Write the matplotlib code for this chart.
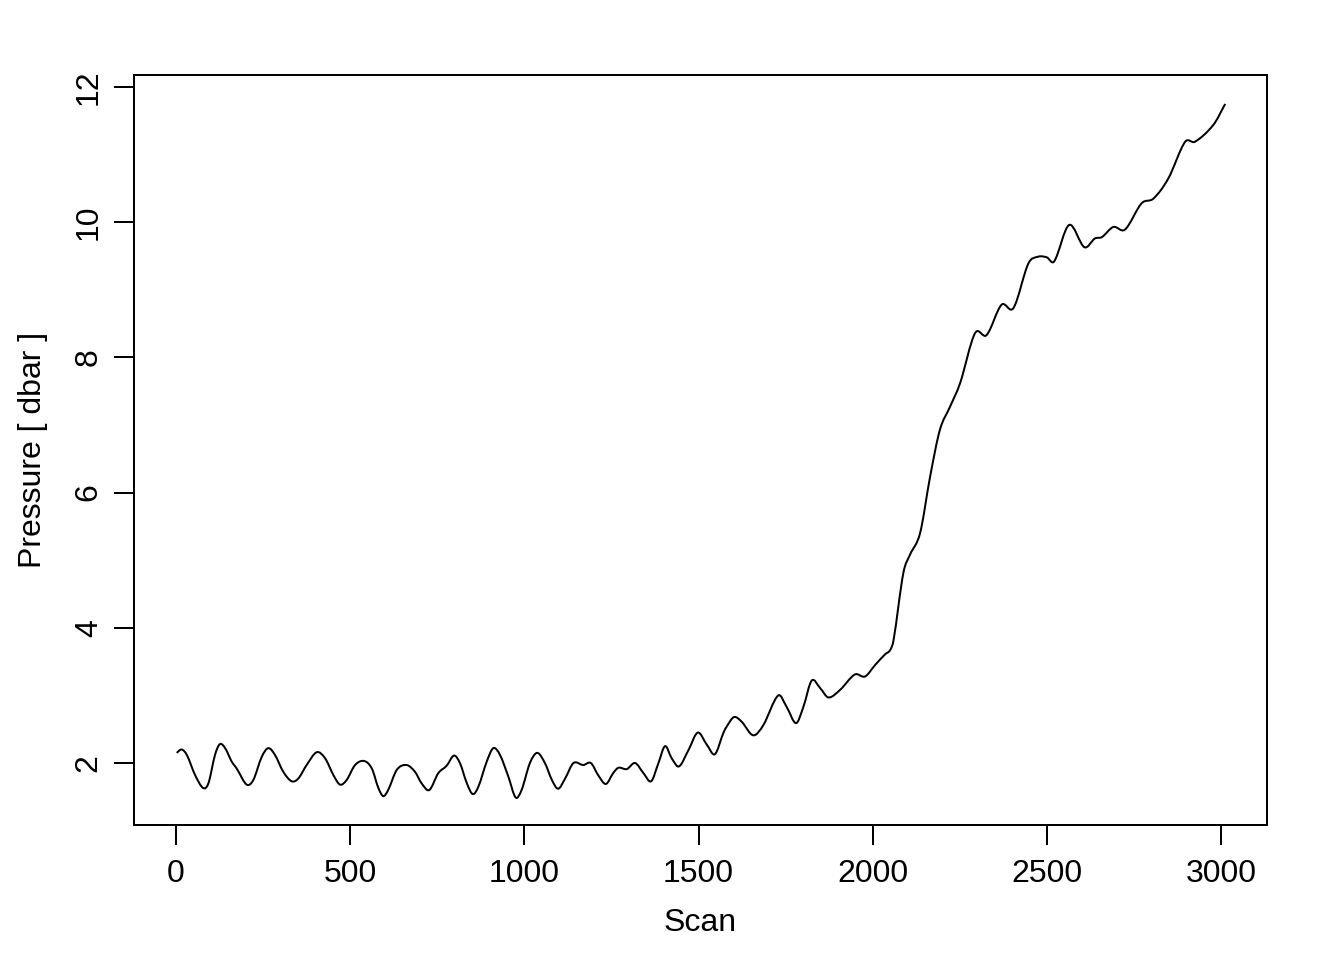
import matplotlib
matplotlib.use("Agg")
import matplotlib.pyplot as plt
from matplotlib.path import Path
from matplotlib.patches import PathPatch

plt.rcParams['font.family'] = ['Liberation Sans', 'DejaVu Sans']

# pressure trace
scan = [2, 16, 31, 55, 78, 93, 112, 126, 141, 160, 174, 203, 222, 246, 265,
        284, 308, 332, 351, 375, 404, 428, 452, 471, 490, 514, 540, 562, 581,
        595, 609, 634, 662, 686, 705, 727, 753, 777, 798, 815, 835, 852, 868,
        892, 911, 930, 954, 975, 992, 1016, 1037, 1059, 1079, 1097, 1117,
        1141, 1169, 1191, 1212, 1234, 1255, 1270, 1294, 1318, 1342, 1364,
        1385, 1404, 1423, 1444, 1471, 1498, 1524, 1547, 1571, 1581, 1602,
        1624, 1657, 1686, 1729, 1753, 1780, 1801, 1825, 1849, 1873, 1906,
        1949, 1978, 2007, 2036, 2050, 2060, 2088, 2107, 2136, 2165, 2193,
        2222, 2251, 2294, 2327, 2370, 2404, 2447, 2475, 2500, 2521, 2564,
        2608, 2638, 2658, 2691, 2724, 2772, 2806, 2849, 2897, 2925, 2978, 3012]
pressure = [2.15, 2.20, 2.12, 1.82, 1.63, 1.70, 2.12, 2.28, 2.22, 2.02, 1.92,
            1.68, 1.75, 2.09, 2.22, 2.12, 1.87, 1.73, 1.77, 1.97, 2.16, 2.07,
            1.82, 1.68, 1.75, 1.97, 2.03, 1.92, 1.63, 1.51, 1.60, 1.90, 1.97,
            1.87, 1.70, 1.60, 1.85, 1.96, 2.11, 2.00, 1.70, 1.54, 1.65, 2.02,
            2.22, 2.12, 1.80, 1.49, 1.60, 2.00, 2.15, 2.00, 1.75, 1.62, 1.77,
            2.00, 1.97, 2.00, 1.82, 1.69, 1.85, 1.93, 1.91, 2.00, 1.85, 1.73,
            2.00, 2.25, 2.07, 1.95, 2.19, 2.45, 2.27, 2.13, 2.44, 2.54, 2.68,
            2.61, 2.41, 2.56, 3.00, 2.83, 2.59, 2.83, 3.22, 3.11, 2.97, 3.08,
            3.31, 3.28, 3.45, 3.61, 3.67, 3.82, 4.81, 5.08, 5.40, 6.24, 6.93,
            7.27, 7.62, 8.36, 8.33, 8.78, 8.73, 9.39, 9.49, 9.48, 9.42, 9.96,
            9.63, 9.76, 9.78, 9.93, 9.89, 10.28, 10.35, 10.65, 11.19, 11.19,
            11.44, 11.75]

x_ticks = [0, 500, 1000, 1500, 2000, 2500, 3000]
y_ticks = [2, 4, 6, 8, 10, 12]


def smooth_path(xs, ys):
    # cubic Hermite segments through the read points, drawn as Bezier curves
    n = len(xs)
    slopes = []
    for i in range(n):
        a = max(i - 1, 0)
        b = min(i + 1, n - 1)
        slopes.append((ys[b] - ys[a]) / (xs[b] - xs[a]))
    verts = [(xs[0], ys[0])]
    codes = [Path.MOVETO]
    for i in range(n - 1):
        d = (xs[i + 1] - xs[i]) / 3
        verts += [(xs[i] + d, ys[i] + slopes[i] * d),
                  (xs[i + 1] - d, ys[i + 1] - slopes[i + 1] * d),
                  (xs[i + 1], ys[i + 1])]
        codes += [Path.CURVE4] * 3
    return Path(verts, codes)


fig = plt.figure(figsize=(7, 5), dpi=192)
ax = fig.add_axes([134 / 1344, 1 - 825 / 960, (1267 - 134) / 1344, (825 - 75) / 960])
ax.add_patch(PathPatch(smooth_path(scan, pressure), facecolor='none',
                       edgecolor='black', lw=0.75, joinstyle='round'))
ax.set_xlim(-120.6, 3132)
ax.set_ylim(1.083, 12.178)
ax.set_xticks(x_ticks)
ax.set_yticks(y_ticks)
ax.set_yticklabels([str(v) for v in y_ticks], rotation=90, va='center')
ax.tick_params(length=7.5, width=0.75, labelsize=12, direction='out')
ax.tick_params(axis='x', pad=5.2)
ax.tick_params(axis='y', pad=3.8)
for s in ax.spines.values():
    s.set_linewidth(0.75)

fig.text(700.5 / 1344, 1 - 923 / 960, 'Scan', ha='center', va='center', fontsize=12)
fig.text(33 / 1344, 1 - 450 / 960, 'Pressure [ dbar ]', ha='center', va='center',
         rotation=90, fontsize=12)

fig.savefig('out.png', dpi=192)
